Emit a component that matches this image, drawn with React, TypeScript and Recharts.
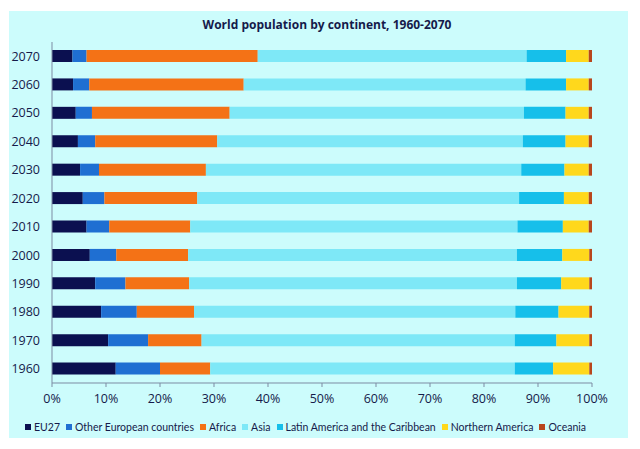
import React from "react";
import { BarChart, Bar, XAxis, YAxis } from "recharts";

// years, top row first
const years = ["2070", "2060", "2050", "2040", "2030", "2020", "2010", "2000", "1990", "1980", "1970", "1960"];

// shares of world population, %
const eu27 = [3.8, 3.9, 4.4, 4.8, 5.2, 5.7, 6.4, 7.0, 8.0, 9.1, 10.4, 11.8];
const otherEurope = [2.6, 3.0, 3.0, 3.2, 3.5, 4.0, 4.2, 4.9, 5.6, 6.6, 7.4, 8.2];
const africa = [31.7, 28.6, 25.5, 22.6, 19.8, 17.2, 15.0, 13.3, 11.8, 10.6, 9.9, 9.3];
const asia = [49.8, 52.2, 54.5, 56.6, 58.4, 59.6, 60.6, 60.9, 60.7, 59.5, 58.0, 56.4];
const latinAmerica = [7.3, 7.5, 7.7, 7.9, 8.0, 8.3, 8.4, 8.4, 8.2, 8.0, 7.7, 7.1];
const northAmerica = [4.2, 4.2, 4.3, 4.3, 4.5, 4.6, 4.8, 5.0, 5.2, 5.7, 6.1, 6.7];
const oceania = [0.6, 0.6, 0.6, 0.6, 0.6, 0.6, 0.6, 0.5, 0.5, 0.5, 0.5, 0.5];

const xTicks = [0, 10, 20, 30, 40, 50, 60, 70, 80, 90, 100];

const series = [
  { key: "eu27", name: "EU27", color: "#0b1050", values: eu27 },
  { key: "otherEurope", name: "Other European countries", color: "#1f6fd2", values: otherEurope },
  { key: "africa", name: "Africa", color: "#f47216", values: africa },
  { key: "asia", name: "Asia", color: "#7ee8f7", values: asia },
  { key: "latinAmerica", name: "Latin America and the Caribbean", color: "#16bfea", values: latinAmerica },
  { key: "northAmerica", name: "Northern America", color: "#ffd81c", values: northAmerica },
  { key: "oceania", name: "Oceania", color: "#b8461c", values: oceania },
];

const data = years.map((year, i) => {
  const row: any = { year };
  series.forEach((s) => {
    row[s.key] = s.values[i];
  });
  return row;
});

const textColor = "#151a4a";
const axisColor = "#7d8ba3";
const font = "'Open Sans', sans-serif";

export default function App() {
  return (
    <div style={{ position: "relative", width: 640, height: 449, margin: -8, background: "#fff", fontFamily: font }}>
      {/* cyan panel behind everything */}
      <div style={{ position: "absolute", left: 9, top: 11, width: 619, height: 427, background: "#ccfcfc" }} />
      <div
        style={{
          position: "absolute",
          left: 0,
          top: 16,
          width: 654,
          textAlign: "center",
          fontSize: 12,
          fontWeight: 700,
          color: textColor,
        }}
      >
        World population by continent, 1960-2070
      </div>
      <div style={{ position: "absolute", left: 0, top: 0 }}>
        <BarChart
          width={640}
          height={449}
          data={data}
          layout="vertical"
          margin={{ top: 42, right: 48, bottom: 36, left: 0 }}
          barSize={12}
        >
          <XAxis
            type="number"
            domain={[0, 100]}
            ticks={xTicks}
            tickFormatter={(v) => v + "%"}
            height={30}
            tickSize={4}
            tickMargin={7}
            stroke={axisColor}
            tick={{ fill: textColor, fontSize: 12.5, fontFamily: font }}
          />
          <YAxis
            type="category"
            dataKey="year"
            width={52}
            tickLine={false}
            tickMargin={6}
            stroke={axisColor}
            tick={{ fill: textColor, fontSize: 12.5, fontFamily: font }}
          />
          {series.map((s) => (
            <Bar key={s.key} dataKey={s.key} name={s.name} stackId="a" fill={s.color} isAnimationActive={false} />
          ))}
        </BarChart>
      </div>
      <div
        style={{
          position: "absolute",
          left: 25,
          top: 421,
          display: "flex",
          gap: 6,
          fontSize: 10.5,
          color: textColor,
          fontFamily: "Lato, sans-serif",
          whiteSpace: "nowrap",
        }}
      >
        {series.map((s) => (
          <span key={s.key} style={{ display: "flex", alignItems: "center" }}>
            <span style={{ display: "inline-block", width: 6, height: 6, background: s.color, marginRight: 3 }} />
            {s.name}
          </span>
        ))}
      </div>
    </div>
  );
}
